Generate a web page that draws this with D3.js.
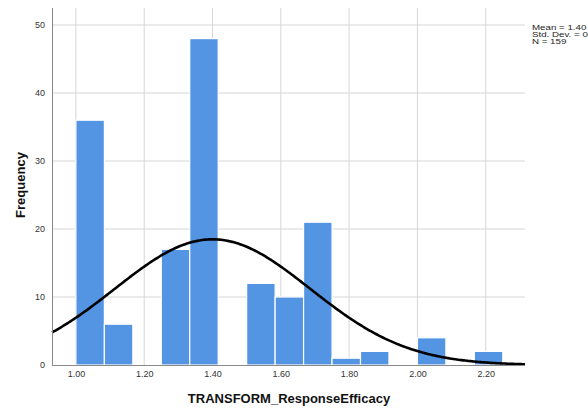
<!DOCTYPE html>
<html>
<head>
<meta charset="utf-8">
<script src="https://cdn.jsdelivr.net/npm/d3@7/dist/d3.min.js"></script>
<style>
  html, body { margin: 0; padding: 0; background: #fff; overflow: hidden; }
  svg { display: block; font-family: "Liberation Sans", Arial, sans-serif; }
</style>
</head>
<body>
<svg id="chart" width="588" height="410"></svg>
<script>
// Histogram bins (lower edges, width 1/12) and counts
const binStarts = [1.0, 13/12, 14/12, 15/12, 16/12, 17/12, 18/12, 19/12, 20/12, 21/12, 22/12, 23/12, 24/12, 25/12, 26/12];
const binWidth = 1 / 12;
const counts = [36, 6, 0, 17, 48, 0, 12, 10, 21, 1, 2, 0, 4, 0, 2];
const xTicks = [1.0, 1.2, 1.4, 1.6, 1.8, 2.0, 2.2];
const yTicks = [0, 10, 20, 30, 40, 50];
const stats = { mean: 1.40, sd: 0.286, n: 159 };
const statLines = ["Mean = 1.40", "Std. Dev. = 0.286", "N = 159"];

const svg = d3.select("#chart");
const m = { left: 52, right: 525, top: 8, bottom: 365 };

const x = d3.scaleLinear().domain([0.93, 2.315]).range([m.left, m.right]);
const y = d3.scaleLinear().domain([0, 52.5]).range([m.bottom, m.top]);

// gridlines
svg.append("g").selectAll("line").data(xTicks).join("line")
  .attr("x1", d => x(d)).attr("x2", d => x(d))
  .attr("y1", m.top).attr("y2", m.bottom)
  .attr("stroke", "#d6d6d6").attr("stroke-width", 1);
svg.append("g").selectAll("line").data(yTicks.filter(d => d > 0)).join("line")
  .attr("x1", m.left).attr("x2", m.right)
  .attr("y1", d => y(d)).attr("y2", d => y(d))
  .attr("stroke", "#d6d6d6").attr("stroke-width", 1);

// bars
svg.append("g").selectAll("rect").data(binStarts.map((s, i) => ({ s, c: counts[i] })).filter(d => d.c > 0))
  .join("rect")
  .attr("x", d => x(d.s))
  .attr("width", d => x(d.s + binWidth) - x(d.s))
  .attr("y", d => y(d.c))
  .attr("height", d => y(0) - y(d.c))
  .attr("fill", "#5394e3")
  .attr("stroke", "#ffffff")
  .attr("stroke-width", 1.2);

// normal curve scaled to counts
const scale = stats.n * binWidth;
const pts = d3.range(0.93, 2.3151, 0.005).map(v => [v,
  scale * Math.exp(-0.5 * Math.pow((v - stats.mean) / stats.sd, 2)) / (stats.sd * Math.sqrt(2 * Math.PI))]);
svg.append("path").datum(pts)
  .attr("d", d3.line().x(d => x(d[0])).y(d => y(d[1])).curve(d3.curveBasis))
  .attr("fill", "none").attr("stroke", "#000").attr("stroke-width", 2.6);

// axes
const xAxis = svg.append("g").attr("transform", `translate(0,${m.bottom})`)
  .call(d3.axisBottom(x).tickValues(xTicks).tickFormat(d3.format(".2f")).tickSize(0).tickPadding(6));
const yAxis = svg.append("g").attr("transform", `translate(${m.left},0)`)
  .call(d3.axisLeft(y).tickValues(yTicks).tickSize(0).tickPadding(7));
xAxis.select(".domain").attr("d", `M${m.left},0.5H${m.right}`).attr("stroke", "#888");
yAxis.select(".domain").attr("d", `M0.5,${m.top}V${m.bottom}`).attr("stroke", "#888");
[xAxis, yAxis].forEach(g => g.selectAll("text")
  .attr("font-family", "Liberation Sans, Arial, sans-serif")
  .attr("font-size", 9).attr("fill", "#333"));

// axis titles
svg.append("text").attr("x", 289).attr("y", 403).attr("text-anchor", "middle")
  .attr("font-size", 13).attr("fill", "#111").style("font-weight", "600")
  .text("TRANSFORM_ResponseEfficacy");
svg.append("text").attr("transform", "translate(25,185) rotate(-90)").attr("text-anchor", "middle")
  .attr("font-size", 13).attr("fill", "#111").style("font-weight", "600")
  .text("Frequency");

// statistics box (narrow line spacing, horizontally widened type)
svg.append("g").attr("transform", "translate(532,0) scale(1.25,1)")
  .selectAll("text").data(statLines).join("text")
  .attr("x", 0).attr("y", (d, i) => 30 + i * 6.8)
  .attr("font-size", 7.8).attr("fill", "#222")
  .text(d => d);
</script>
</body>
</html>
